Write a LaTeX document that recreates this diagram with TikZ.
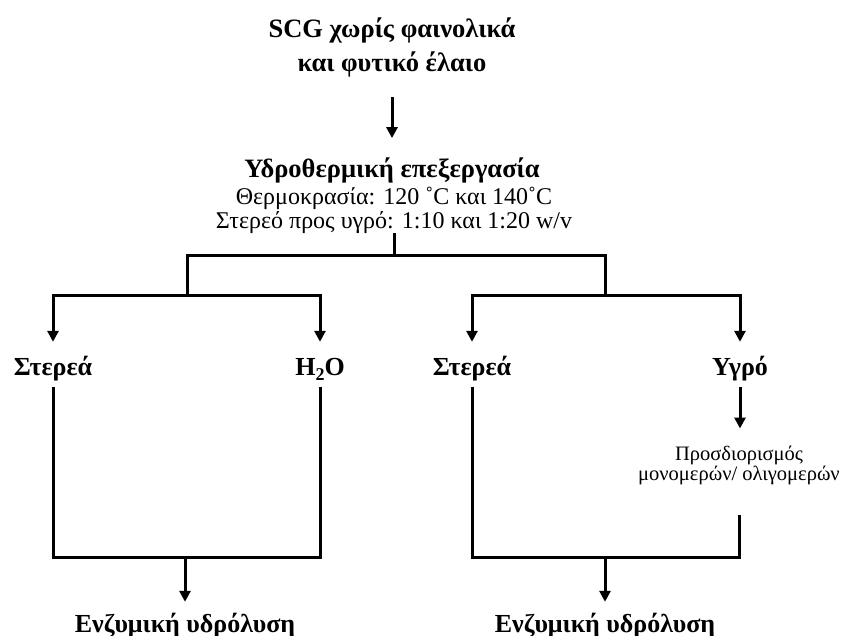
\documentclass[tikz,border=0pt]{standalone}
\usepackage{fontspec}
\setmainfont{Liberation Serif}
\usetikzlibrary{arrows.meta}
\begin{document}
\begin{tikzpicture}[x=1pt,y=-1pt,
  line/.style={line width=3pt},
  arr/.style={line width=3pt,-{Triangle[width=11pt,length=11pt]}},
  bigb/.style={font=\fontsize{26.5}{34}\bfseries\selectfont,align=center,inner sep=0pt},
  normt/.style={font=\fontsize{24}{24}\selectfont,align=center,inner sep=0pt},
  smallt/.style={font=\fontsize{20.5}{18}\selectfont,align=center,inner sep=0pt},
  leaf/.style={font=\fontsize{26}{30}\bfseries\selectfont,text height=25pt,text depth=4pt,inner xsep=0pt,inner ysep=8pt},
  enz/.style={font=\fontsize{26}{30}\bfseries\selectfont,text height=19pt,text depth=6pt,inner xsep=0pt,inner ysep=11pt}]
\useasboundingbox (0,0) rectangle (841,635);
\fill[white] (0,0) rectangle (841,635);

\node[bigb,anchor=base] (title) at (392,71) {SCG χωρίς φαινολικά\\και φυτικό έλαιο};
\node[bigb,anchor=base] (hydro) at (392,177) {Υδροθερμική επεξεργασία};
\node[normt,anchor=base] (cond) at (394,228) {Θερμοκρασία: 120 ˚C και 140˚C\\Στερεό προς υγρό: 1:10 και 1:20 w/v};

\node[leaf,anchor=base] (s1) at (53,375) {Στερεά};
\node[leaf,anchor=base] (h2o) at (320,375) {H\raisebox{-5pt}{\fontsize{18}{18}\selectfont 2}O};
\node[leaf,anchor=base] (s2) at (472,375) {Στερεά};
\node[leaf,anchor=base] (ygro) at (740,375) {Υγρό};
\node[smallt,anchor=base] (det) at (739,480) {Προσδιορισμός\\μονομερών/ ολιγομερών};

\node[enz,anchor=base] (enz1) at (185,632) {Ενζυμική υδρόλυση};
\node[enz,anchor=base] (enz2) at (605,632) {Ενζυμική υδρόλυση};

\coordinate (ja) at (187,255);
\coordinate (jb) at (605,255);
\coordinate (ka) at (187,295);
\coordinate (kb) at (605,295);
\coordinate (m1) at (185,557);
\coordinate (m2) at (605,557);

\draw[arr,shorten <=20pt,shorten >=19pt] (title.south) -- (hydro.north);
\draw[line] (cond.south) -- (cond.south |- ja);
\draw[line] (ka) -- (ja) -- (jb) -- (kb);
\draw[arr] (ka) -| (s1.north);
\draw[arr] (ka) -| (h2o.north);
\draw[arr] (kb) -| (s2.north);
\draw[arr] (kb) -| (ygro.north);
\draw[arr,shorten >=17pt] (ygro.south) -- (ygro.south |- det.north);
\draw[line] (s1.south) |- (m1) -| (h2o.south);
\draw[line,shorten >=30pt] (s2.south) |- (m2) -| (det.south);
\draw[arr] (m1) -- (enz1.north);
\draw[arr] (m2) -- (enz2.north);
\end{tikzpicture}
\end{document}
